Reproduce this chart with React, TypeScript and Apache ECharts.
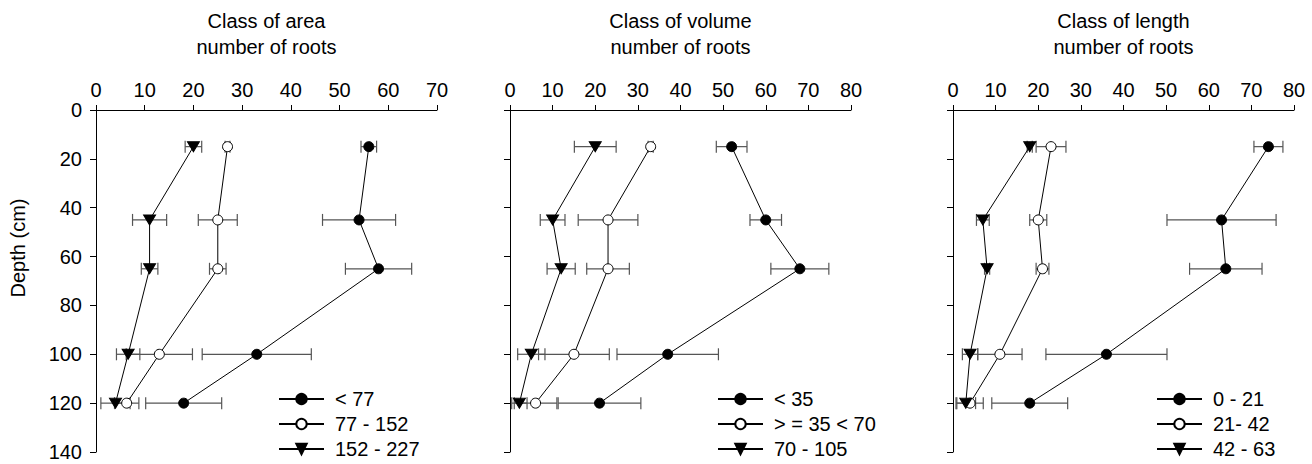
import React, { useEffect, useRef } from "react";
import * as echarts from "echarts";

// Depth of each sampling layer (cm)
const depths = [15, 45, 65, 100, 120];

// Panel 1: class of area
const areaTitle = "Class of area\nnumber of roots";
const areaNames = ["< 77", "77 - 152", "152 - 227"];
const areaLt77 = [56, 54, 58, 33, 18];
const areaLt77Err = [1.6, 7.5, 6.8, 11.2, 7.8];
const area77to152 = [27, 25, 25, 13, 6.3];
const area77to152Err = [0.5, 4, 1.7, 6.8, 2.5];
const area152to227 = [20, 11, 11, 6.6, 4];
const area152to227Err = [1.7, 3.5, 1.7, 2.4, 3];

// Panel 2: class of volume
const volumeTitle = "Class of volume\nnumber of roots";
const volumeNames = ["< 35", "> = 35 < 70", "70 - 105"];
const volLt35 = [52, 60, 68, 37, 21];
const volLt35Err = [3.6, 3.7, 6.8, 11.9, 9.7];
const vol35to70 = [33, 23, 23, 15, 6];
const vol35to70Err = [0.6, 7, 5, 8.3, 5];
const vol70to105 = [20, 10, 12, 5, 2.2];
const vol70to105Err = [4.9, 2.9, 3.3, 3.2, 1.8];

// Panel 3: class of length
const lengthTitle = "Class of length\nnumber of roots";
const lengthNames = ["0 - 21", "21- 42", "42 - 63"];
const len0to21 = [74, 63, 64, 36, 18];
const len0to21Err = [3.4, 12.8, 8.5, 14.2, 8.9];
const len21to42 = [23, 20, 21, 11, 4];
const len21to42Err = [3.5, 2, 1.5, 5.2, 3.1];
const len42to63 = [18, 7, 8, 4, 3];
const len42to63Err = [0.6, 1.5, 0.6, 1.8, 2.3];

const xMaxes = [70, 80, 80];
const depthMax = 140;
const yLabel = "Depth (cm)";

const FONT = "'Liberation Sans', Arial, sans-serif";
const FS = 20;

const panels = [
  { title: areaTitle, names: areaNames, means: [areaLt77, area77to152, area152to227], errs: [areaLt77Err, area77to152Err, area152to227Err] },
  { title: volumeTitle, names: volumeNames, means: [volLt35, vol35to70, vol70to105], errs: [volLt35Err, vol35to70Err, vol70to105Err] },
  { title: lengthTitle, names: lengthNames, means: [len0to21, len21to42, len42to63], errs: [len0to21Err, len21to42Err, len42to63Err] },
];

const gridLefts = [96, 510, 953];
const gridWidth = 341;
const gridTop = 110;
const gridHeight = 342;
const legendLefts = [278, 717, 1156];

const TRI = "path://M0,0L10,0L5,8.66Z";
const markerStyles = [
  { symbol: "circle", symbolSize: 10, itemStyle: { color: "#000", borderColor: "#000", borderWidth: 1 } },
  { symbol: "circle", symbolSize: 10, itemStyle: { color: "#fff", borderColor: "#000", borderWidth: 1 } },
  { symbol: TRI, symbolSize: [12, 10], itemStyle: { color: "#000", borderColor: "#000", borderWidth: 1 } },
];

function errRender(params: any, api: any) {
  const x = api.value(0);
  const y = api.value(1);
  const e = api.value(2);
  const p1 = api.coord([x - e, y]);
  const p2 = api.coord([x + e, y]);
  const h = 6;
  const style = { stroke: "#555", lineWidth: 1.2 };
  return {
    type: "group",
    children: [
      { type: "line", shape: { x1: p1[0], y1: p1[1], x2: p2[0], y2: p2[1] }, style },
      { type: "line", shape: { x1: p1[0], y1: p1[1] - h, x2: p1[0], y2: p1[1] + h }, style },
      { type: "line", shape: { x1: p2[0], y1: p2[1] - h, x2: p2[0], y2: p2[1] + h }, style },
    ],
  };
}

export default function App() {
  const ref = useRef<HTMLDivElement>(null);
  useEffect(() => {
    if (!ref.current) return;
    const chart = echarts.init(ref.current, null, { renderer: "svg" });

    const grid = gridLefts.map((l) => ({ left: l, top: gridTop, width: gridWidth, height: gridHeight }));
    const xAxis = xMaxes.map((mx, i) => ({
      type: "value",
      gridIndex: i,
      position: "top",
      min: 0,
      max: mx,
      interval: 10,
      axisLine: { show: true, lineStyle: { color: "#000", width: 1 } },
      axisTick: { show: true, inside: false, length: 5, lineStyle: { color: "#000" } },
      axisLabel: { color: "#000", fontSize: FS, fontFamily: FONT, margin: 10 },
      splitLine: { show: false },
    }));
    const yAxis = gridLefts.map((_, i) => ({
      type: "value",
      gridIndex: i,
      inverse: true,
      min: 0,
      max: depthMax,
      interval: 20,
      axisLine: { show: true, lineStyle: { color: "#000", width: 1 } },
      axisTick: { show: true, inside: false, length: 6, lineStyle: { color: "#000" } },
      axisLabel: { show: i === 0, color: "#000", fontSize: FS, fontFamily: FONT, margin: 14 },
      splitLine: { show: false },
    }));

    const series: any[] = [];
    panels.forEach((p, pi) => {
      p.names.forEach((name, ci) => {
        series.push({
          name: name + " SE",
          type: "custom",
          xAxisIndex: pi,
          yAxisIndex: pi,
          renderItem: errRender,
          encode: { x: 0, y: 1 },
          data: depths.map((d, k) => [p.means[ci][k], d, p.errs[ci][k]]),
          z: 2,
          silent: true,
        });
      });
      p.names.forEach((name, ci) => {
        const ms = markerStyles[ci];
        series.push({
          name,
          type: "line",
          xAxisIndex: pi,
          yAxisIndex: pi,
          data: depths.map((d, k) => [p.means[ci][k], d]),
          symbol: ms.symbol,
          symbolSize: ms.symbolSize,
          showAllSymbol: true,
          itemStyle: ms.itemStyle,
          lineStyle: { color: "#000", width: 1 },
          z: 3,
        });
      });
    });

    const title = panels.map((p, i) => ({
      text: p.title,
      left: gridLefts[i] + gridWidth / 2,
      textAlign: "center",
      top: 8,
      padding: 0,
      textStyle: { color: "#000", fontSize: FS, fontWeight: "normal", fontFamily: FONT, lineHeight: 26 },
    }));

    const legend = panels.map((p, i) => ({
      data: p.names,
      orient: "vertical",
      left: legendLefts[i],
      top: 389,
      padding: 0,
      height: 80,
      itemWidth: 45,
      itemHeight: 13,
      itemGap: 5,
      textStyle: { color: "#000", fontSize: FS, fontFamily: FONT, padding: [0, 0, 0, 6] },
      selectedMode: false,
    }));

    chart.setOption({
      animation: false,
      backgroundColor: "#fff",
      textStyle: { fontFamily: FONT },
      title,
      legend,
      grid,
      xAxis,
      yAxis,
      series,
      graphic: [
        {
          type: "text",
          x: 18,
          y: 248,
          rotation: Math.PI / 2,
          style: {
            text: yLabel,
            fill: "#000",
            fontSize: FS,
            fontFamily: FONT,
            textAlign: "center",
            textVerticalAlign: "middle",
          },
        },
      ],
    });
    return () => chart.dispose();
  }, []);
  return (
    <div
      ref={ref}
      style={{ position: "fixed", left: 0, top: 0, width: 1312, height: 464 }}
    />
  );
}
